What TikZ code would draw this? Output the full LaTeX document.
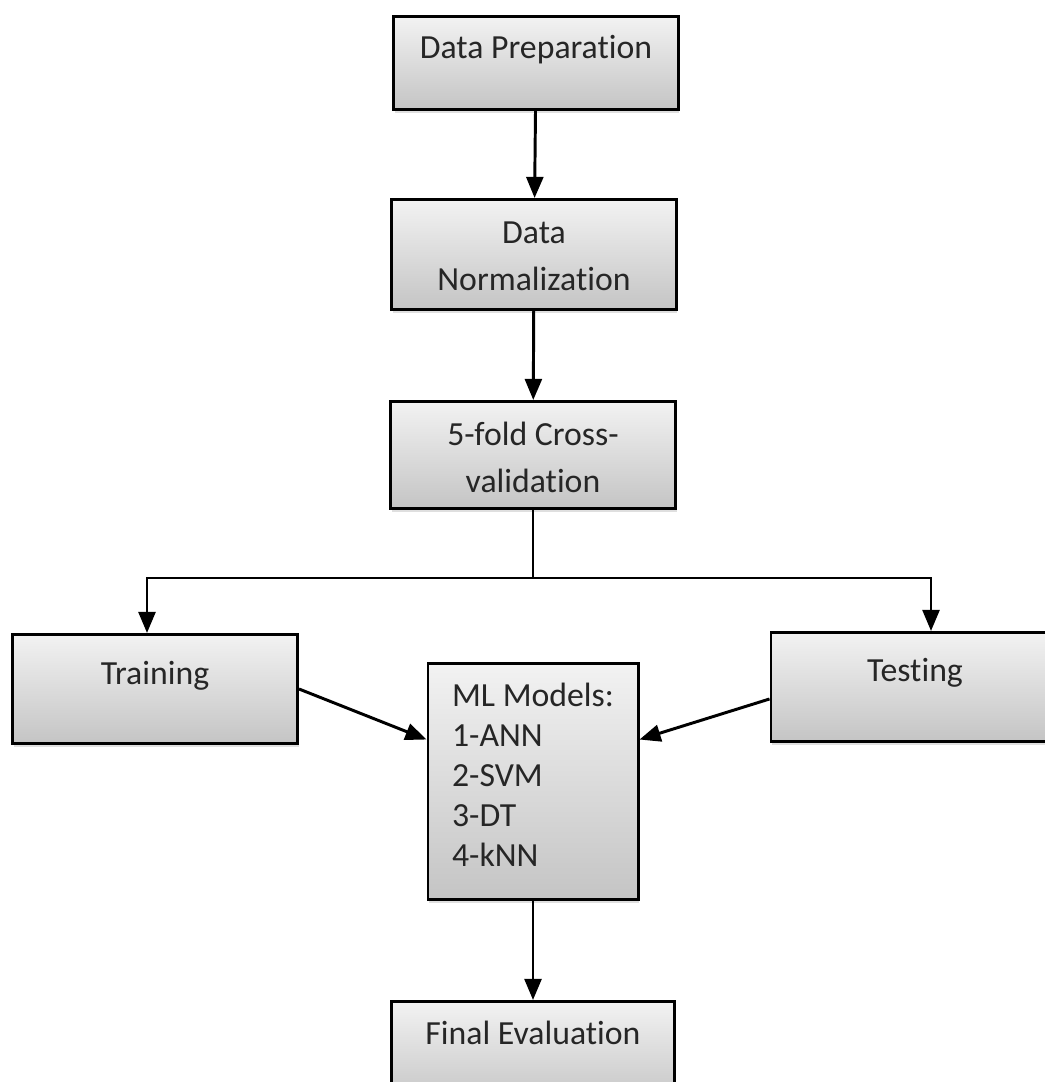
\documentclass[tikz,border=0pt]{standalone}
\usepackage{fontspec}
\setmainfont[Ligatures=NoCommon]{Carlito}
\usetikzlibrary{arrows.meta,%
                shadows}
\newcommand{\px}{0.025cm}

\begin{document}
\begin{tikzpicture}[x=\px,y=-\px]
  \useasboundingbox (0,0) rectangle (1044,1082);
  \tikzstyle{StepBox}=[draw,line width=2.1pt,top color=black!5,bottom color=black!23,
    drop shadow={opacity=0.25,shadow xshift=1pt,shadow yshift=-2.5pt},
    inner sep=0pt,anchor=north,align=center,text=black!85,
    font=\fontsize{24}{33.4}\selectfont]
  \tikzstyle{Flow}=[line width=2.1pt,-{Triangle[length=15pt,width=12pt]}]
  \node[StepBox,minimum width=7.1cm,text height=1.05cm,text depth=1.275cm] (prep) at (536,15) {Data Preparation};
  \node[StepBox,minimum width=7.1cm,text height=2.275cm,text depth=0.475cm] (norm) at (534,198) {Data\\Normalization};
  \node[StepBox,minimum width=7.125cm,text height=2.275cm,text depth=0.4cm] (cross) at (533,400) {5-fold Cross-\\validation};
  \node[StepBox,minimum width=7.125cm,text height=1.25cm,text depth=1.475cm] (train) at (155,633) {Training};
  \node[StepBox,minimum width=7.2cm,text height=1.225cm,text depth=1.5cm] (test) at (915,631) {Testing};
  \node[StepBox,align=left,minimum width=5.25cm,text height=5.075cm,text depth=0.825cm,
    font=\fontsize{24}{28.45}\selectfont] (ml) at (533,662) {ML Models:\\1-ANN\\2-SVM\\3-DT\\4-kNN};
  \node[StepBox,minimum width=7.075cm,text height=1.075cm,text depth=1.5cm] (final) at (533,1000) {Final Evaluation};
  \coordinate (split) at (533,578);
  \draw[Flow] (prep) -- (norm);
  \draw[Flow] (norm) -- (cross);
  \draw[line width=2.1pt] (cross) -- (split);
  \draw[Flow] (split) -| ([xshift=-8*\px]train.north);
  \draw[Flow] (split) -| ([xshift=16*\px]test.north);
  \draw[Flow] (train.east) -- ([yshift=42*\px]ml.west);
  \draw[Flow] ([yshift=-12*\px]test.west) -- ([yshift=42*\px]ml.east);
  \draw[Flow] (ml) -- (final);
\end{tikzpicture}
\end{document}
